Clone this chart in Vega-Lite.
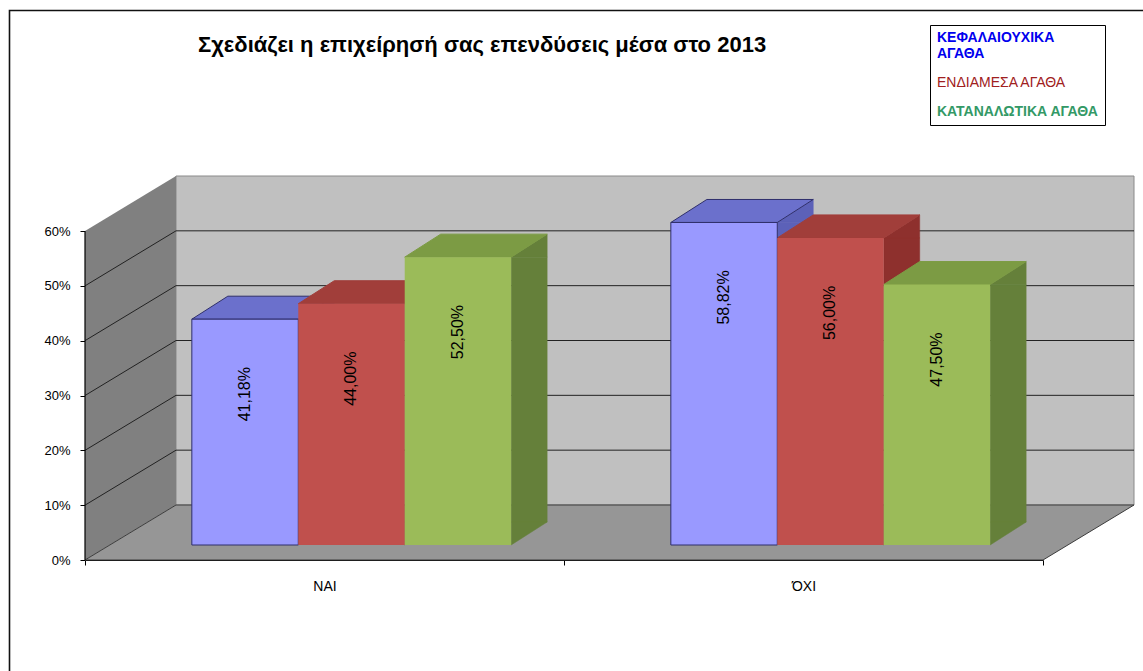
{
  "$schema": "https://vega.github.io/schema/vega-lite/v6.json",
  "width": 958,
  "height": 550,
  "autosize": "none",
  "padding": {"left": 85, "top": 10, "right": 100, "bottom": 111},
  "background": "#ffffff",
  "config": {
    "font": "Liberation Sans",
    "locale": {"number": {"decimal": ",", "thousands": ".", "grouping": [3], "currency": ["", " €"]}},
    "view": {"stroke": null}
  },
  "title": {
    "text": "Σχεδιάζει η επιχείρησή σας επενδύσεις μέσα στο 2013",
    "anchor": "start",
    "frame": "group",
    "dx": 113,
    "dy": 67,
    "offset": 0,
    "fontSize": 22,
    "fontWeight": "bold",
    "color": "#000000",
    "baseline": "alphabetic"
  },
  "datasets": {
    "bars": [
      {"cat": "ΝΑΙ", "series": "ΚΕΦΑΛΑΙΟΥΧΙΚΑ ΑΓΑΘΑ", "value": 0.4118},
      {"cat": "ΝΑΙ", "series": "ΕΝΔΙΑΜΕΣΑ ΑΓΑΘΑ", "value": 0.44},
      {"cat": "ΝΑΙ", "series": "ΚΑΤΑΝΑΛΩΤΙΚΑ ΑΓΑΘΑ", "value": 0.525},
      {"cat": "ΌΧΙ", "series": "ΚΕΦΑΛΑΙΟΥΧΙΚΑ ΑΓΑΘΑ", "value": 0.5882},
      {"cat": "ΌΧΙ", "series": "ΕΝΔΙΑΜΕΣΑ ΑΓΑΘΑ", "value": 0.56},
      {"cat": "ΌΧΙ", "series": "ΚΑΤΑΝΑΛΩΤΙΚΑ ΑΓΑΘΑ", "value": 0.475}
    ],
    "ticks": [
      {"v": 0}, {"v": 0.1}, {"v": 0.2}, {"v": 0.3}, {"v": 0.4}, {"v": 0.5}, {"v": 0.6}
    ]
  },
  "resolve": {"scale": {"xOffset": "independent"}},
  "layer": [
    {
      "data": {"name": "ticks"},
      "transform": [{"filter": "datum.v === 0"}],
      "mark": {"type": "point", "shape": "M -315 175 L -315 -494.5 L 830 -494.5", "size": 4, "filled": false, "opacity": 1, "stroke": "#111111", "strokeWidth": 1.6},
      "encoding": {
        "x": {
          "datum": "ΝΑΙ",
          "type": "nominal",
          "scale": {"type": "band", "domain": ["ΝΑΙ", "ΌΧΙ"], "paddingInner": 0, "paddingOuter": 0},
          "axis": {
            "title": null,
            "tickBand": "extent",
            "domainColor": "#000000",
            "domainWidth": 1,
            "tickColor": "#000000",
            "tickSize": 5,
            "labelColor": "#000000",
            "labelFontSize": 14,
            "labelPadding": 14,
            "labelAngle": 0,
            "grid": false
          }
        },
        "y": {
          "field": "v",
          "type": "quantitative",
          "scale": {"domain": [0, 0.6], "range": [495, 166], "nice": false, "zero": true},
          "axis": {
            "values": [0, 0.1, 0.2, 0.3, 0.4, 0.5, 0.6],
            "format": ".0%",
            "title": null,
            "domain": false,
            "grid": false,
            "tickOffset": 55,
            "tickSize": 5,
            "tickColor": "#000000",
            "labelColor": "#000000",
            "labelFontSize": 13,
            "labelPadding": 10
          }
        }
      }
    },
    {
      "data": {"name": "ticks"},
      "transform": [{"filter": "datum.v === 0"}],
      "mark": {"type": "point", "shape": "M -148.5 0 L 809.5 0 L 809.5 -329 L -148.5 -329 Z", "size": 4, "filled": true, "opacity": 1, "fill": "#c0c0c0", "stroke": "#8a8a8a", "strokeWidth": 1},
      "encoding": {
        "x": {"datum": "ΝΑΙ", "type": "nominal"},
        "y": {"field": "v", "type": "quantitative"}
      }
    },
    {
      "data": {"name": "ticks"},
      "transform": [{"filter": "datum.v === 0"}],
      "mark": {"type": "point", "shape": "M -239.5 55 L -148.5 0 L -148.5 -329 L -239.5 -274 Z", "size": 4, "filled": true, "opacity": 1, "fill": "#808080", "strokeWidth": 0},
      "encoding": {
        "x": {"datum": "ΝΑΙ", "type": "nominal"},
        "y": {"field": "v", "type": "quantitative"}
      }
    },
    {
      "data": {"name": "ticks"},
      "transform": [{"filter": "datum.v === 0"}],
      "mark": {"type": "point", "shape": "M -239.5 55 L -148.5 0 L 809.5 0 L 718.5 55 Z", "size": 4, "filled": true, "opacity": 1, "fill": "#969696", "stroke": "#3c3c3c", "strokeWidth": 1},
      "encoding": {
        "x": {"datum": "ΝΑΙ", "type": "nominal"},
        "y": {"field": "v", "type": "quantitative"}
      }
    },
    {
      "data": {"name": "ticks"},
      "transform": [{"filter": "datum.v > 0 && datum.v < 0.55"}],
      "mark": {"type": "point", "shape": "M -239.5 55 L -148.5 0 L 809.5 0", "size": 4, "filled": false, "opacity": 1, "stroke": "#222222", "strokeWidth": 1},
      "encoding": {
        "x": {"datum": "ΝΑΙ", "type": "nominal"},
        "y": {"field": "v", "type": "quantitative"}
      }
    },
    {
      "data": {"name": "ticks"},
      "transform": [{"filter": "datum.v === 0"}],
      "mark": {"type": "point", "shape": "M -239.5 55 L -239.5 -274", "size": 4, "filled": false, "opacity": 1, "stroke": "#000000", "strokeWidth": 1.2},
      "encoding": {
        "x": {"datum": "ΝΑΙ", "type": "nominal"},
        "y": {"field": "v", "type": "quantitative"}
      }
    },
    {
      "data": {"name": "bars"},
      "mark": {"type": "bar", "width": 36, "yOffset": 40, "y2Offset": 17, "strokeWidth": 0.5},
      "encoding": {
        "x": {"field": "cat", "type": "nominal"},
        "xOffset": {"field": "series", "type": "nominal", "scale": {"type": "band", "domain": ["ΚΕΦΑΛΑΙΟΥΧΙΚΑ ΑΓΑΘΑ", "ΕΝΔΙΑΜΕΣΑ ΑΓΑΘΑ", "ΚΑΤΑΝΑΛΩΤΙΚΑ ΑΓΑΘΑ"], "range": [178.05, 497.38], "paddingInner": 0, "paddingOuter": 0}},
        "y": {"field": "value", "type": "quantitative"},
        "y2": {"datum": 0},
        "fill": {"condition": [{"test": "datum.series === 'ΚΕΦΑΛΑΙΟΥΧΙΚΑ ΑΓΑΘΑ'", "value": "#5c61b8"}, {"test": "datum.series === 'ΕΝΔΙΑΜΕΣΑ ΑΓΑΘΑ'", "value": "#8e302d"}], "value": "#65803a"},
        "stroke": {"condition": [{"test": "datum.series === 'ΚΕΦΑΛΑΙΟΥΧΙΚΑ ΑΓΑΘΑ'", "value": "#5c61b8"}, {"test": "datum.series === 'ΕΝΔΙΑΜΕΣΑ ΑΓΑΘΑ'", "value": "#8e302d"}], "value": "#65803a"}
      }
    },
    {
      "data": {"name": "bars"},
      "mark": {"type": "point", "shape": "M 53.22 0 L 53.22 -23 L 89.22 -23 Z", "size": 4, "filled": true, "opacity": 1, "yOffset": 40, "strokeWidth": 0.5},
      "encoding": {
        "x": {"field": "cat", "type": "nominal"},
        "xOffset": {"field": "series", "type": "nominal", "scale": {"type": "band", "domain": ["ΚΕΦΑΛΑΙΟΥΧΙΚΑ ΑΓΑΘΑ", "ΕΝΔΙΑΜΕΣΑ ΑΓΑΘΑ", "ΚΑΤΑΝΑΛΩΤΙΚΑ ΑΓΑΘΑ"], "range": [106.83, 426.16], "paddingInner": 0, "paddingOuter": 0}},
        "y": {"datum": 0, "type": "quantitative"},
        "fill": {"condition": [{"test": "datum.series === 'ΚΕΦΑΛΑΙΟΥΧΙΚΑ ΑΓΑΘΑ'", "value": "#5c61b8"}, {"test": "datum.series === 'ΕΝΔΙΑΜΕΣΑ ΑΓΑΘΑ'", "value": "#8e302d"}], "value": "#65803a"},
        "stroke": {"condition": [{"test": "datum.series === 'ΚΕΦΑΛΑΙΟΥΧΙΚΑ ΑΓΑΘΑ'", "value": "#5c61b8"}, {"test": "datum.series === 'ΕΝΔΙΑΜΕΣΑ ΑΓΑΘΑ'", "value": "#8e302d"}], "value": "#65803a"}
      }
    },
    {
      "data": {"name": "bars"},
      "mark": {"type": "point", "shape": "M 53.22 0 L 89.22 -23 L 89.22 0 Z", "size": 4, "filled": true, "opacity": 1, "yOffset": 40, "strokeWidth": 0.5},
      "encoding": {
        "x": {"field": "cat", "type": "nominal"},
        "xOffset": {"field": "series", "type": "nominal", "scale": {"type": "band", "domain": ["ΚΕΦΑΛΑΙΟΥΧΙΚΑ ΑΓΑΘΑ", "ΕΝΔΙΑΜΕΣΑ ΑΓΑΘΑ", "ΚΑΤΑΝΑΛΩΤΙΚΑ ΑΓΑΘΑ"], "range": [106.83, 426.16], "paddingInner": 0, "paddingOuter": 0}},
        "y": {"field": "value", "type": "quantitative"},
        "fill": {"condition": [{"test": "datum.series === 'ΚΕΦΑΛΑΙΟΥΧΙΚΑ ΑΓΑΘΑ'", "value": "#5c61b8"}, {"test": "datum.series === 'ΕΝΔΙΑΜΕΣΑ ΑΓΑΘΑ'", "value": "#8e302d"}], "value": "#65803a"},
        "stroke": {"condition": [{"test": "datum.series === 'ΚΕΦΑΛΑΙΟΥΧΙΚΑ ΑΓΑΘΑ'", "value": "#5c61b8"}, {"test": "datum.series === 'ΕΝΔΙΑΜΕΣΑ ΑΓΑΘΑ'", "value": "#8e302d"}], "value": "#65803a"}
      }
    },
    {
      "data": {"name": "bars"},
      "mark": {"type": "point", "shape": "M -53.22 0 L 53.22 0 L 89.22 -23 L -17.22 -23 Z", "size": 4, "filled": true, "opacity": 1, "yOffset": 40, "strokeWidth": 1},
      "encoding": {
        "x": {"field": "cat", "type": "nominal"},
        "xOffset": {"field": "series", "type": "nominal", "scale": {"type": "band", "domain": ["ΚΕΦΑΛΑΙΟΥΧΙΚΑ ΑΓΑΘΑ", "ΕΝΔΙΑΜΕΣΑ ΑΓΑΘΑ", "ΚΑΤΑΝΑΛΩΤΙΚΑ ΑΓΑΘΑ"], "range": [106.83, 426.16], "paddingInner": 0, "paddingOuter": 0}},
        "y": {"field": "value", "type": "quantitative"},
        "fill": {"condition": [{"test": "datum.series === 'ΚΕΦΑΛΑΙΟΥΧΙΚΑ ΑΓΑΘΑ'", "value": "#6b70cc"}, {"test": "datum.series === 'ΕΝΔΙΑΜΕΣΑ ΑΓΑΘΑ'", "value": "#a13e3a"}], "value": "#7c9b44"},
        "stroke": {"condition": [{"test": "datum.series === 'ΚΕΦΑΛΑΙΟΥΧΙΚΑ ΑΓΑΘΑ'", "value": "#2f2f6b"}, {"test": "datum.series === 'ΕΝΔΙΑΜΕΣΑ ΑΓΑΘΑ'", "value": "#a13e3a"}], "value": "#7c9b44"}
      }
    },
    {
      "data": {"name": "bars"},
      "mark": {"type": "bar", "yOffset": 40, "y2Offset": 40, "stroke": "#2f2f6b"},
      "encoding": {
        "x": {"field": "cat", "type": "nominal"},
        "xOffset": {"field": "series", "type": "nominal", "scale": {"type": "band", "domain": ["ΚΕΦΑΛΑΙΟΥΧΙΚΑ ΑΓΑΘΑ", "ΕΝΔΙΑΜΕΣΑ ΑΓΑΘΑ", "ΚΑΤΑΝΑΛΩΤΙΚΑ ΑΓΑΘΑ"], "range": [106.83, 426.16], "paddingInner": 0, "paddingOuter": 0}},
        "y": {"field": "value", "type": "quantitative"},
        "y2": {"datum": 0},
        "color": {
          "field": "series",
          "type": "nominal",
          "scale": {"domain": ["ΚΕΦΑΛΑΙΟΥΧΙΚΑ ΑΓΑΘΑ", "ΕΝΔΙΑΜΕΣΑ ΑΓΑΘΑ", "ΚΑΤΑΝΑΛΩΤΙΚΑ ΑΓΑΘΑ"], "range": ["#9999ff", "#c0504d", "#9bbb59"]},
          "legend": {
            "orient": "none",
            "legendX": 845,
            "legendY": 15,
            "title": null,
            "fillColor": "#ffffff",
            "strokeColor": "#000000",
            "padding": 6,
            "symbolSize": 0.1,
            "symbolOpacity": 0,
            "symbolStrokeWidth": 0,
            "labelOffset": -13,
            "labelFontSize": 14,
            "rowPadding": 15,
            "labelLimit": 300,
            "labelExpr": "datum.label === 'ΚΕΦΑΛΑΙΟΥΧΙΚΑ ΑΓΑΘΑ' ? ['ΚΕΦΑΛΑΙΟΥΧΙΚΑ', 'ΑΓΑΘΑ'] : datum.label",
            "labelColor": {"expr": "datum.value === 'ΚΕΦΑΛΑΙΟΥΧΙΚΑ ΑΓΑΘΑ' ? '#0000ee' : datum.value === 'ΕΝΔΙΑΜΕΣΑ ΑΓΑΘΑ' ? '#a02020' : '#339966'"},
            "labelFontWeight": {"expr": "datum.value === 'ΕΝΔΙΑΜΕΣΑ ΑΓΑΘΑ' ? 'normal' : 'bold'"}
          }
        },
        "strokeWidth": {"condition": {"test": "datum.series === 'ΚΕΦΑΛΑΙΟΥΧΙΚΑ ΑΓΑΘΑ'", "value": 1}, "value": 0}
      }
    },
    {
      "data": {"name": "bars"},
      "mark": {"type": "text", "angle": 270, "fontSize": 16, "yOffset": 115, "align": "center", "baseline": "middle", "color": "#000000"},
      "encoding": {
        "x": {"field": "cat", "type": "nominal"},
        "xOffset": {"field": "series", "type": "nominal", "scale": {"type": "band", "domain": ["ΚΕΦΑΛΑΙΟΥΧΙΚΑ ΑΓΑΘΑ", "ΕΝΔΙΑΜΕΣΑ ΑΓΑΘΑ", "ΚΑΤΑΝΑΛΩΤΙΚΑ ΑΓΑΘΑ"], "range": [106.83, 426.16], "paddingInner": 0, "paddingOuter": 0}},
        "y": {"field": "value", "type": "quantitative"},
        "text": {"field": "value", "type": "quantitative", "format": ".2%"}
      }
    }
  ]
}
